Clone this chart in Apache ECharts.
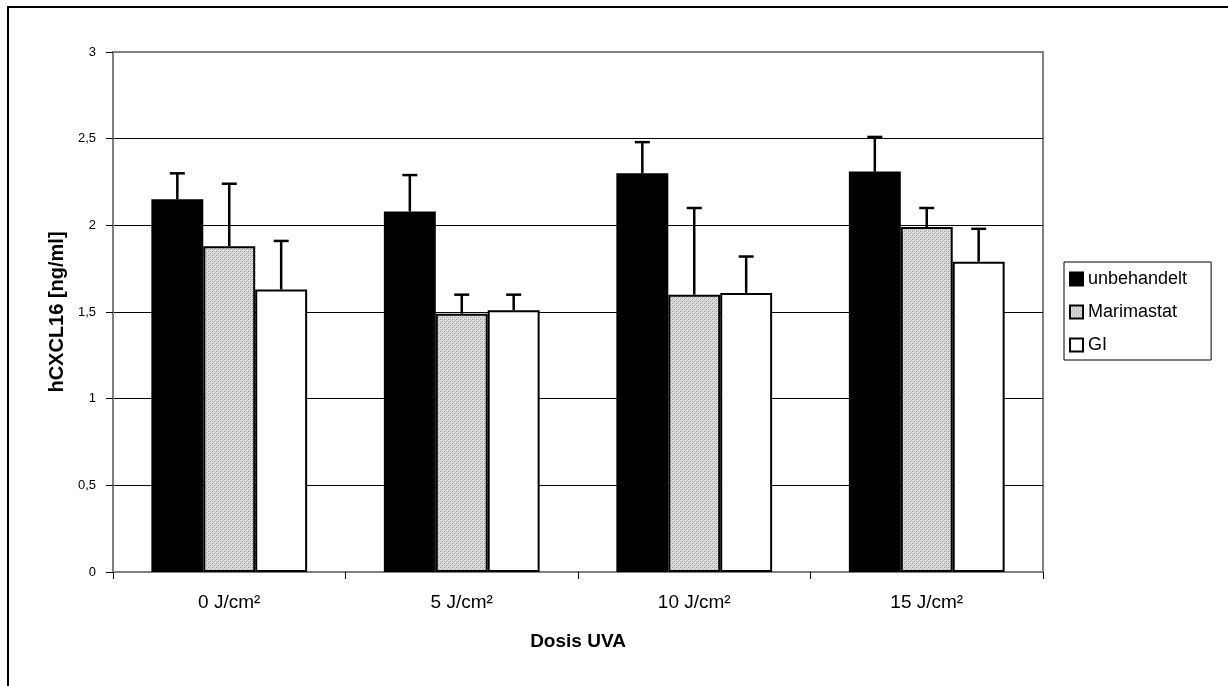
<!DOCTYPE html>
<html>
<head>
<meta charset="utf-8">
<script src="https://cdn.jsdelivr.net/npm/echarts@6/dist/echarts.min.js"></script>
<style>
html,body{margin:0;padding:0;background:#fff;}
#chart{width:1228px;height:686px;}
</style>
</head>
<body>
<div id="chart"></div>
<script>
const categories = ['0 J/cm²', '5 J/cm²', '10 J/cm²', '15 J/cm²'];
const seriesNames = ['unbehandelt', 'Marimastat', 'GI'];
const unbehandelt = [2.15, 2.08, 2.30, 2.31];
const unbehandeltSD = [0.15, 0.21, 0.18, 0.20];
const marimastat = [1.88, 1.49, 1.60, 1.99];
const marimastatSD = [0.36, 0.11, 0.50, 0.11];
const gi = [1.63, 1.51, 1.61, 1.79];
const giSD = [0.28, 0.09, 0.21, 0.19];
const yTickLabels = ['0', '0,5', '1', '1,5', '2', '2,5', '3'];

const FONT = 'Liberation Sans, Arial, sans-serif';
const CAT_GAP = 0.33;

// hatched grey fill
const pc = document.createElement('canvas');
pc.width = 4; pc.height = 4;
const pctx = pc.getContext('2d');
pctx.fillStyle = '#e0e0e0';
pctx.fillRect(0, 0, 4, 4);
pctx.fillStyle = '#969696';
for (let i = 0; i < 4; i++) { pctx.fillRect(i, (3 - i), 1, 1); }
pctx.fillStyle = '#c0c0c0';
for (let i = 0; i < 4; i++) { pctx.fillRect(i, (i + 1) % 4, 1, 1); }
const hatch = { image: pc, repeat: 'repeat' };

const values = [unbehandelt, marimastat, gi];
const sds = [unbehandeltSD, marimastatSD, giSD];
const fills = ['#000000', hatch, '#ffffff'];

const series = [];
values.forEach((vals, k) => {
  series.push({
    name: seriesNames[k],
    type: 'bar',
    data: vals,
    barGap: '0%',
    barCategoryGap: (CAT_GAP * 100) + '%',
    itemStyle: { color: fills[k], borderColor: '#000', borderWidth: 2 },
    z: 3
  });
});
values.forEach((vals, k) => {
  series.push({
    name: seriesNames[k] + ' SD',
    type: 'custom',
    z: 2,
    data: vals.map((v, i) => [i, v, sds[k][i]]),
    renderItem: function (params, api) {
      const cat = api.value(0), val = api.value(1), sd = api.value(2);
      const base = api.coord([cat, val]);
      const top = api.coord([cat, val + sd]);
      const bandW = api.size([1, 0])[0];
      const barW = bandW * (1 - CAT_GAP) / 3;
      const x = base[0] + (k - 1) * barW;
      const st = { stroke: '#000', lineWidth: 2.5 };
      return {
        type: 'group',
        children: [
          { type: 'line', shape: { x1: x, y1: base[1], x2: x, y2: top[1] }, style: st },
          { type: 'line', shape: { x1: x - 7.5, y1: top[1], x2: x + 7.5, y2: top[1] }, style: st }
        ]
      };
    }
  });
});

const chart = echarts.init(document.getElementById('chart'), null, { renderer: 'canvas' });
chart.setOption({
  backgroundColor: '#fff',
  animation: false,
  graphic: [{
    type: 'rect',
    shape: { x: 8, y: 7, width: 1400, height: 900 },
    style: { fill: 'none', stroke: '#000', lineWidth: 2 },
    silent: true
  }],
  grid: {
    left: 113, right: 185, top: 52, bottom: 114,
    show: true, borderColor: '#808080', borderWidth: 2, backgroundColor: 'transparent'
  },
  legend: {
    orient: 'vertical',
    left: 1064, top: 262,
    data: seriesNames,
    itemWidth: 13, itemHeight: 13,
    itemGap: 15,
    itemTextGap: 3,
    padding: [8, 24, 6, 5],
    borderColor: '#000', borderWidth: 1,
    icon: 'rect',
    textStyle: { fontFamily: FONT, fontSize: 18, color: '#000' },
    itemStyle: { borderColor: '#000', borderWidth: 2 }
  },
  xAxis: {
    type: 'category',
    data: categories,
    name: 'Dosis UVA',
    nameLocation: 'middle',
    nameGap: 60,
    nameTextStyle: { fontFamily: FONT, fontSize: 19, fontWeight: 'bold', color: '#000' },
    axisLine: { lineStyle: { color: '#808080', width: 2 } },
    axisTick: { show: true, length: 7, lineStyle: { color: '#000', width: 1 } },
    axisLabel: { fontFamily: FONT, fontSize: 19, color: '#000', margin: 21 },
    splitLine: { show: false }
  },
  yAxis: {
    type: 'value',
    min: 0, max: 3, interval: 0.5,
    name: 'hCXCL16 [ng/ml]',
    nameLocation: 'middle',
    nameGap: 43,
    nameTextStyle: { fontFamily: FONT, fontSize: 20, fontWeight: 'bold', color: '#000' },
    axisLine: { show: true, lineStyle: { color: '#808080', width: 2 } },
    axisTick: { show: true, length: 7, lineStyle: { color: '#000', width: 1 } },
    axisLabel: {
      fontFamily: FONT, fontSize: 13, color: '#000', margin: 17,
      formatter: function (v) { return yTickLabels[Math.round(v / 0.5)]; }
    },
    splitLine: { show: true, showMaxLine: false, lineStyle: { color: '#000', width: 1 } }
  },
  series: series
});
</script>
</body>
</html>
